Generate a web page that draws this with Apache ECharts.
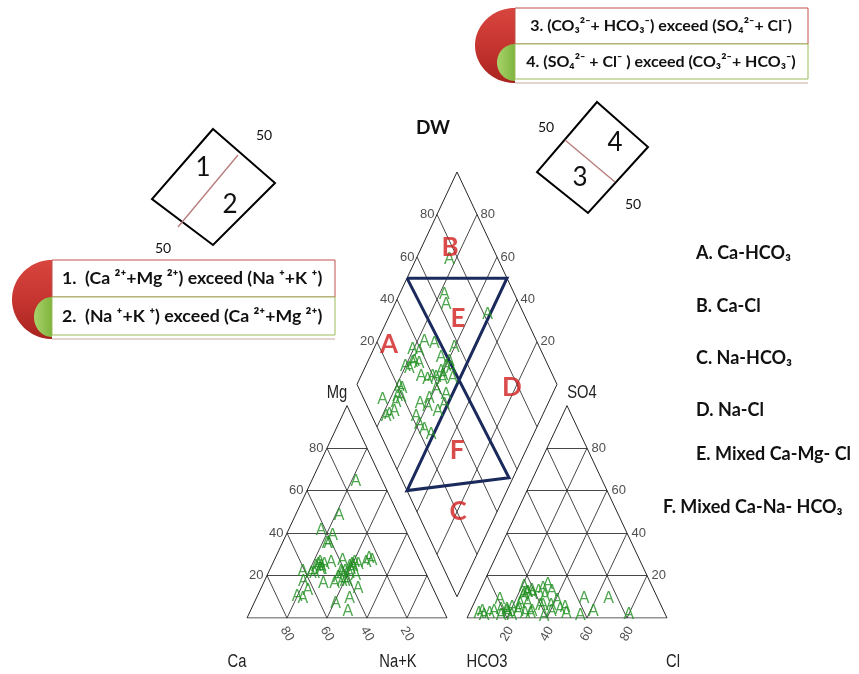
<!DOCTYPE html>
<html>
<head>
<meta charset="utf-8">
<script src="https://cdn.jsdelivr.net/npm/echarts@6/dist/echarts.min.js"></script>
<style>
  html, body { margin: 0; padding: 0; background: #ffffff; }
  #chart { width: 859px; height: 674px; }
</style>
</head>
<body>
<div id="chart"></div>
<script>
// Major-ion composition of the DW samples, percent of meq/L
const nak = [22.6, 25.8, 23.6, 29.0, 40.1, 19.7, 23.4, 35.8, 40.8, 23.3, 20.0, 22.4, 40.3, 43.2, 39.0, 30.2, 36.0, 34.3, 46.6, 41.8, 21.7, 23.4, 40.8, 23.2, 39.4, 47.0, 16.5, 23.9, 48.5, 40.6, 46.8, 23.3, 25.1, 37.1, 40.7, 44.4, 48.9, 16.9, 49.0, 22.1, 22.6, 26.2, 38.0, 25.0, 41.0, 36.0];
const mg  = [35, 23, 26, 26, 25, 17, 35, 16, 26, 39, 10, 64, 23, 25, 17, 16, 22, 27, 26, 17, 21, 9, 7, 25, 24, 28, 41, 13, 14, 17, 9, 21, 24, 21, 21, 20, 3, 22, 27, 48, 24, 25, 22, 23, 24, 19];
const so4 = [3, 9.3, 3, 3.8, 1, 14.8, 13, 15.6, 5, 11, 4.6, 7, 12.5, 2.2, 6, 7, 6, 12, 8, 10, 8.5, 3, 11, 1, 2.2, 12.5, 3, 3, 0.5, 2, 3, 1, 2, 4, 2, 1, 5, 9.3, 1.5, 2, 10, 12, 6, 4, 14, 3];
const cl  = [61.7, 53.9, 40.7, 44.6, 56.2, 21.2, 25.9, 32.6, 46.5, 23, 23.8, 23, 36.2, 48.6, 39, 26.8, 33.7, 24.4, 41.1, 33.9, 12.2, 18.6, 27.2, 16.5, 30.7, 29.5, 6.2, 12.1, 38.3, 28.1, 31, 8, 10.3, 17.9, 19.6, 21.9, 20.1, 66.2, 80.2, 4.9, 23, 24, 35, 15, 31, 24];
const sampleSymbol = 'A';

// Ternary tick values
const ticks = [20, 40, 60, 80];

// Water-type fields of the diamond: (Na+K %, SO4+Cl %)
const fieldNames = ['A', 'B', 'C', 'D', 'E', 'F'];
const fieldNa    = [6.7, 14.4, 80.6, 78.3, 35.1, 65.5];
const fieldS     = [25.3, 78.6, 20.5, 76.7, 65.9, 34.5];

// Outline of the mixed-type zones E and F (Na+K %, SO4+Cl %)
const zoneNa = [0, 50, 50, 98, 0];
const zoneS  = [50, 100, 0, 54, 50];

// Legend texts
const fieldLegend = ['A. Ca-HCO\u2083', 'B. Ca-Cl', 'C. Na-HCO\u2083', 'D. Na-Cl', 'E. Mixed Ca-Mg- Cl', 'F. Mixed Ca-Na- HCO\u2083'];
const cationNotes = ['1.  (Ca \u00B2\u207A+Mg \u00B2\u207A) exceed (Na \u207A+K \u207A)', '2.  (Na \u207A+K \u207A) exceed (Ca \u00B2\u207A+Mg \u00B2\u207A)'];
const anionNotes = ['3. (CO\u2083\u00B2\u207B+ HCO\u2083\u207B) exceed (SO\u2084\u00B2\u207B+ Cl\u207B)', '4. (SO\u2084\u00B2\u207B + Cl\u207B ) exceed (CO\u2083\u00B2\u207B+ HCO\u2083\u207B)'];

// ---- Piper geometry (axis units: triangle side = 100) ----
const H = 50 * Math.sqrt(3);
const GAP = 10;
const YMAX = GAP * H / 100 + 2 * H;
function cat(mgP, naP) { return [naP + mgP / 2, mgP * H / 100]; }
function ani(so4P, clP) { return [100 + GAP + clP + so4P / 2, so4P * H / 100]; }
const DL = [50 + GAP / 2, GAP * H / 100 + H];
function dia(naP, sP) { return [DL[0] + (naP + sP) / 2, DL[1] + (sP - naP) * H / 100]; }

const PX_Y = 446 / YMAX;          // pixels per y unit
const BELOW = -16 / PX_Y;         // bottom tick label row

// grid segments
const gridSegs = [];
ticks.forEach(t => {
  gridSegs.push({ coords: [cat(t, 0), cat(t, 100 - t)] });
  gridSegs.push({ coords: [cat(0, t), cat(100 - t, t)] });
  gridSegs.push({ coords: [cat(0, 100 - t), cat(100 - t, 0)] });
  gridSegs.push({ coords: [ani(t, 0), ani(t, 100 - t)] });
  gridSegs.push({ coords: [ani(0, t), ani(100 - t, t)] });
  gridSegs.push({ coords: [ani(0, 100 - t), ani(100 - t, 0)] });
  gridSegs.push({ coords: [dia(t, 0), dia(t, 100)] });
  gridSegs.push({ coords: [dia(0, t), dia(100, t)] });
});
const outlines = [
  { coords: [cat(0, 0), cat(0, 100), cat(100, 0), cat(0, 0)] },
  { coords: [ani(0, 0), ani(0, 100), ani(100, 0), ani(0, 0)] },
  { coords: [dia(0, 0), dia(0, 100), dia(100, 100), dia(100, 0), dia(0, 0)] }
];
const zoneLine = [{ coords: zoneNa.map((n, i) => dia(n, zoneS[i])) }];

// sample positions
const catPts = nak.map((n, i) => cat(mg[i], n));
const aniPts = cl.map((c, i) => ani(so4[i], c));
const diaPts = nak.map((n, i) => dia(n, so4[i] + cl[i]));

const SANS = '"Liberation Sans", Arial, sans-serif';
const tickFont = { fontFamily: SANS, fontSize: 13, color: '#222' };
function tickSeries(data, label) {
  return {
    type: 'scatter', data: data, symbolSize: 1, silent: true, z: 5, clip: false,
    itemStyle: { color: 'transparent' },
    label: Object.assign({ show: true, formatter: '{b}' }, tickFont, label)
  };
}
function sampleSeries(pts) {
  return {
    type: 'scatter', data: pts, symbolSize: 1, silent: true, z: 6, clip: false,
    itemStyle: { color: 'transparent' },
    label: { show: true, formatter: sampleSymbol, position: 'inside', color: '#229022',
             fontFamily: SANS, fontSize: 16 }
  };
}

// ---- annotation graphics ----
function halfEllipse(cx, cy, rx, ry) {
  const pts = [];
  for (let i = 0; i <= 48; i++) {
    const a = Math.PI / 2 + Math.PI * i / 48;
    pts.push([cx + rx * Math.cos(a), cy - ry * Math.sin(a)]);
  }
  return pts;
}
const redFill = new echarts.graphic.LinearGradient(0, 0, 0, 1, [
  { offset: 0, color: '#d8453f' }, { offset: 0.5, color: '#c63530' }, { offset: 1, color: '#a8231f' }]);
const greenFill = new echarts.graphic.LinearGradient(0, 0, 1, 0, [
  { offset: 0, color: '#a8d36a' }, { offset: 1, color: '#7fb43e' }]);

function noteBox(x0, y0, w, h1, h2, notes, textX, align, size) {
  const font = 'bold ' + size + 'px Lato, "Open Sans", sans-serif';
  return [
    { type: 'polygon', shape: { points: halfEllipse(x0, y0 + (h1 + h2 + 4) / 2, 40, (h1 + h2 + 4) / 2) }, style: { fill: redFill } },
    { type: 'polygon', shape: { points: halfEllipse(x0, y0 + h1 + (h2 + 2) / 2, 18, (h2 + 2) / 2) }, style: { fill: greenFill } },
    { type: 'rect', shape: { x: x0, y: y0, width: w, height: h1 }, style: { fill: '#fff', stroke: '#c0504d', lineWidth: 1 } },
    { type: 'rect', shape: { x: x0, y: y0 + h1, width: w, height: h2 }, style: { fill: '#fff', stroke: '#9bbb59', lineWidth: 1 } },
    { type: 'line', shape: { x1: x0, y1: y0 + h1 + h2 + 4, x2: x0 + w, y2: y0 + h1 + h2 + 4 }, style: { stroke: '#c9a9a0', lineWidth: 1 } },
    { type: 'text', x: textX, y: y0 + h1 / 2, style: { text: notes[0], font: font, fill: '#111', align: align, verticalAlign: 'middle', textAlign: align, textVerticalAlign: 'middle' } },
    { type: 'text', x: textX, y: y0 + h1 + h2 / 2, style: { text: notes[1], font: font, fill: '#111', align: align, verticalAlign: 'middle', textAlign: align, textVerticalAlign: 'middle' } }
  ];
}
function txt(x, y, text, font, align, color, sx) {
  return { type: 'text', x: x, y: y, scaleX: sx || 1, style: { text: text, font: font, fill: color || '#111',
    align: align || 'center', verticalAlign: 'middle', textAlign: align || 'center', textVerticalAlign: 'middle' } };
}
const axisFont = '18px ' + SANS;
const AX_SX = 0.82;               // condensed vertex names
const schemeFont = '26px Lato, "Open Sans", sans-serif';
const schemeSmall = '14px Lato, "Open Sans", sans-serif';
const legendFont = 'bold 18px Lato, "Open Sans", sans-serif';

const graphics = [].concat(
  noteBox(515, 8, 293, 36, 35, anionNotes, 661, 'center', 16),
  noteBox(52, 260, 283, 37, 38, cationNotes, 62, 'left', 17.7),
  [
    // cation schematic
    { type: 'polygon', shape: { points: [[213, 129], [275, 183], [213, 245], [152, 199]] }, style: { fill: 'none', stroke: '#000', lineWidth: 2 } },
    { type: 'line', shape: { x1: 178, y1: 227, x2: 238, y2: 155 }, style: { stroke: '#b87a7a', lineWidth: 1.3 } },
    txt(203, 168, '1', schemeFont), txt(230, 205, '2', schemeFont),
    txt(264, 135, '50', schemeSmall), txt(163, 248, '50', schemeSmall),
    // anion schematic
    { type: 'polygon', shape: { points: [[597, 102], [648, 147], [588, 213], [537, 172]] }, style: { fill: 'none', stroke: '#000', lineWidth: 2 } },
    { type: 'line', shape: { x1: 565, y1: 140, x2: 615, y2: 182 }, style: { stroke: '#b87a7a', lineWidth: 1.3 } },
    txt(615, 143, '4', schemeFont), txt(580, 178, '3', schemeFont),
    txt(546, 127, '50', schemeSmall), txt(633, 204, '50', schemeSmall),
    // titles and vertex names
    txt(433, 128, 'DW', 'bold 19px Lato, "Open Sans", sans-serif'),
    txt(337, 393, 'Mg', axisFont, 'center', '#222', AX_SX),
    txt(582, 393, 'SO4', axisFont, 'center', '#222', AX_SX),
    txt(237, 662, 'Ca', axisFont, 'center', '#222', AX_SX),
    txt(398, 662, 'Na+K', axisFont, 'center', '#222', AX_SX),
    txt(487, 662, 'HCO3', axisFont, 'center', '#222', AX_SX),
    txt(673, 662, 'Cl', axisFont, 'center', '#222', AX_SX)
  ],
  fieldLegend.map((t, i) => txt(i === 5 ? 663 : 696, [253, 306, 358, 410, 454, 507][i], t, legendFont, 'left'))
);

const chart = echarts.init(document.getElementById('chart'), null, { renderer: 'canvas' });
chart.setOption({
  animation: false,
  backgroundColor: '#ffffff',
  grid: { left: 247, top: 172, width: 420, height: 446 },
  xAxis: { type: 'value', min: 0, max: 100 * 2 + GAP, show: false },
  yAxis: { type: 'value', min: 0, max: YMAX, show: false },
  graphic: { elements: graphics },
  series: [
    { type: 'lines', coordinateSystem: 'cartesian2d', data: gridSegs, silent: true, z: 2,
      lineStyle: { color: '#333333', width: 0.9, opacity: 1 } },
    { type: 'lines', coordinateSystem: 'cartesian2d', polyline: true, data: outlines, silent: true, z: 2,
      lineStyle: { color: '#262626', width: 1, opacity: 1 } },
    { type: 'lines', coordinateSystem: 'cartesian2d', polyline: true, data: zoneLine, silent: true, z: 3,
      lineStyle: { color: '#1b2a5c', width: 3, opacity: 1 } },
    sampleSeries(catPts),
    sampleSeries(aniPts),
    sampleSeries(diaPts),
    tickSeries(ticks.map(t => ({ name: String(t), value: cat(t, 0) })), { position: 'left', distance: 3 }),
    tickSeries(ticks.map(t => ({ name: String(t), value: ani(t, 100 - t) })), { position: 'right', distance: 4 }),
    tickSeries(ticks.map(t => ({ name: String(t), value: dia(0, t) })), { position: 'left', distance: 2 }),
    tickSeries(ticks.map(t => ({ name: String(t), value: dia(100 - t, 100) })), { position: 'right', distance: 3 }),
    tickSeries(ticks.map(t => ({ name: String(t), value: [cat(0, 100 - t)[0], BELOW] })), { position: 'inside', rotate: -60 }),
    tickSeries(ticks.map(t => ({ name: String(t), value: [ani(0, t)[0], BELOW] })), { position: 'inside', rotate: 60 }),
    { type: 'scatter', symbolSize: 1, silent: true, z: 7, clip: false, itemStyle: { color: 'transparent' },
      data: fieldNames.map((f, i) => ({ name: f, value: dia(fieldNa[i], fieldS[i]) })),
      label: { show: true, formatter: '{b}', position: 'inside', color: '#d11f1f',
               fontFamily: 'Lato, "Open Sans", sans-serif', fontWeight: 'bold', fontSize: 26 } }
  ]
});
</script>
</body>
</html>
